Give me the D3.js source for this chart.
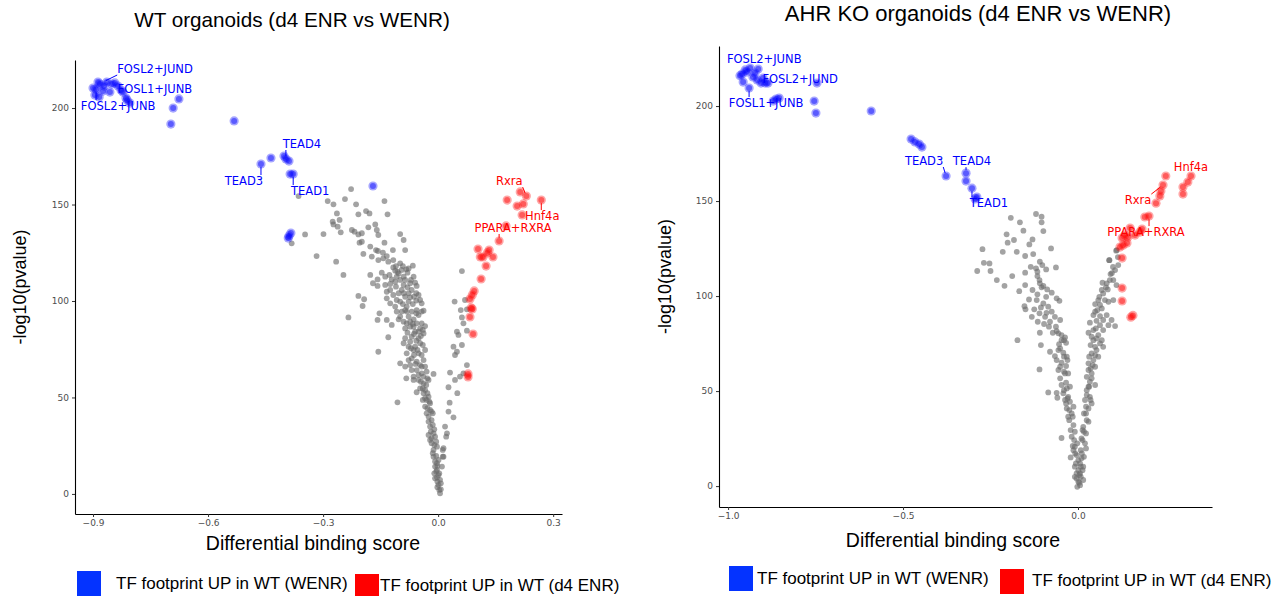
<!DOCTYPE html>
<html lang="en">
<head>
  <meta charset="UTF-8">
  <title>TF footprint volcano plots</title>
  <script src="https://d3js.org/d3.v7.min.js"></script>
  <style>
    body { margin: 0; background: #ffffff; }
    .title { font-family: "Liberation Sans", Arial, sans-serif; fill: #000; }
    .axis-title { font-family: "Liberation Sans", Arial, sans-serif; font-size: 19.5px; fill: #000; }
    .y-title { font-size: 18px; }
    .axis text { font-family: "DejaVu Sans", sans-serif; font-size: 9px; fill: #4d4d4d; }
    .axis path { stroke: #000; stroke-width: 1.1px; }
    .axis line { stroke: #333; }
    .lab { font-family: "DejaVu Sans", sans-serif; font-size: 11.5px; }
    .legend text { font-family: "Liberation Sans", Arial, sans-serif; font-size: 17px; fill: #000; }
  </style>
</head>
<body>
<div id="chart"></div>
<script>
// ---------- WT organoids: [score, -log10 p] ----------
const wtGrey = [
  [-0.227,158.0],[-0.364,154.4],[-0.288,151.8],[-0.243,152.8],[-0.273,150.1],[-0.214,150.1],[-0.140,151.8],
  [-0.264,145.4],[-0.208,144.9],[-0.188,146.6],[-0.179,145.4],[-0.132,144.9],[-0.257,142.0],[-0.275,141.1],
  [-0.273,139.7],[-0.262,138.5],[-0.164,139.7],[-0.182,138.2],[-0.160,136.8],[-0.254,135.6],[-0.225,136.8],
  [-0.218,135.9],[-0.208,134.5],[-0.199,135.1],[-0.347,134.5],[-0.299,134.7],[-0.382,129.9],[-0.099,134.7],
  [-0.090,131.6],[-0.156,134.2],[-0.140,130.2],[-0.205,130.2],[-0.199,130.7],[-0.177,128.2],[-0.162,126.4],
  [-0.157,125.9],[-0.144,125.0],[-0.134,123.3],[-0.118,126.4],[-0.086,126.4],[-0.195,124.4],[-0.173,123.0],
  [-0.156,121.2],[-0.143,122.1],[-0.130,120.4],[-0.117,121.2],[-0.110,118.1],[-0.099,119.5],[-0.083,116.4],
  [-0.066,118.3],[-0.317,123.3],[-0.266,120.4],[-0.247,113.5],[-0.177,113.5],[-0.170,109.2],[-0.158,111.2],
  [-0.147,114.7],[-0.138,112.6],[-0.127,113.5],[-0.121,111.2],[-0.112,115.7],[-0.108,112.6],[-0.099,110.9],
  [-0.090,112.6],[-0.080,114.7],[-0.064,112.6],[-0.060,109.5],[-0.158,107.8],[-0.138,108.3],[-0.125,105.7],
  [-0.110,107.4],[-0.103,104.0],[-0.095,105.7],[-0.086,102.2],[-0.077,104.0],[-0.069,105.7],[-0.057,104.0],
  [-0.047,100.5],[-0.208,102.6],[-0.193,100.9],[-0.197,97.4],[-0.134,101.4],[-0.125,98.8],[-0.112,97.1],
  [-0.099,99.7],[-0.082,97.1],[-0.066,98.4],[-0.056,95.3],[-0.043,94.5],[-0.153,93.6],[-0.134,90.2],
  [-0.121,87.6],[-0.234,91.5],[-0.158,90.2],[-0.099,91.9],[-0.090,89.3],[-0.077,91.9],[-0.064,90.5],
  [-0.051,92.7],[-0.043,88.4],[-0.086,85.8],[-0.073,86.7],[-0.060,84.1],[-0.040,85.0],[-0.069,81.5],
  [-0.051,80.7],[-0.038,83.2],[-0.130,81.2],[-0.156,73.7],[-0.090,78.1],[-0.077,76.3],[-0.060,76.3],
  [-0.047,78.1],[-0.034,74.6],[-0.082,72.9],[-0.069,70.3],[-0.051,72.9],[-0.038,69.4],[-0.099,67.7],
  [-0.086,66.0],[-0.073,66.8],[-0.056,64.2],[-0.043,66.0],[-0.030,63.4],[-0.083,59.9],[-0.064,60.8],
  [-0.051,59.1],[-0.038,57.3],[-0.025,59.1],[-0.012,62.2],[-0.056,52.7],[-0.106,47.5],[-0.040,48.7],
  [-0.025,50.4],[-0.034,45.3],[-0.021,43.5],[-0.030,41.8],[-0.017,38.3],[-0.021,34.9],[-0.010,33.5],
  [-0.025,30.6],[-0.008,29.7],[-0.017,26.3],[-0.012,22.8],[-0.003,24.5],[-0.012,19.3],[0.001,17.6],
  [-0.008,14.2],[-0.003,12.4],[0.001,9.8],[-0.008,8.1],[0.005,7.3],[0.001,4.7],[0.003,2.1],[0.005,0.3],
  [0.010,14.2],[0.012,22.8],[0.014,19.3],
  [0.062,115.5],[0.043,99.7],[0.059,95.3],[0.062,91.5],[0.075,95.7],[0.066,88.4],[0.049,84.1],[0.053,82.4],
  [0.062,77.2],[0.040,76.3],[0.049,73.7],[0.075,84.6],[0.044,72.0],[0.031,62.9],[0.044,59.1],[0.057,60.8],
  [0.066,62.5],[0.075,66.8],[0.027,55.3],[0.050,52.2],[0.030,47.3],[0.027,42.7],[0.040,39.7],[0.018,34.9],
  [0.023,31.4],[0.021,29.7],[0.014,23.7],[0.012,19.3],[0.070,100.5],
  [-0.103,114.3],[-0.095,116.1],[-0.086,110.9],[-0.073,109.2],[-0.117,103.1],[-0.108,94.5],[-0.095,94.5],
  [-0.082,94.5],[-0.073,89.3],[-0.064,86.7],[-0.056,88.4],[-0.051,84.1],[-0.073,78.9],[-0.064,74.6],
  [-0.056,68.6],[-0.043,62.5],[-0.064,59.1],[-0.047,54.7],[-0.034,53.9],[-0.038,52.2],[-0.030,48.7],
  [-0.021,47.0],[-0.025,40.1],[-0.014,41.8],[-0.012,31.4],[-0.021,28.0],[-0.005,27.1],[-0.003,15.9],
  [-0.010,10.7],[-0.002,6.4],
  [-0.117,117.4],[-0.106,115.2],[-0.092,118.1],[-0.077,116.9],[-0.125,108.8],[-0.112,110.0],[-0.090,108.3],
  [-0.080,107.1],[-0.071,110.9],[-0.056,107.8],[-0.134,104.8],[-0.090,104.0],[-0.073,101.9],[-0.063,102.2],
  [-0.051,103.1],[-0.108,100.5],[-0.092,98.4],[-0.077,99.7],[-0.057,100.2],[-0.043,98.8],[-0.086,95.3],
  [-0.069,94.5],[-0.057,93.6],[-0.038,95.0],[-0.103,90.5],[-0.082,88.4],[-0.066,88.1],[-0.047,85.8],
  [-0.034,87.0],[-0.080,83.6],[-0.063,82.9],[-0.045,81.9],[-0.086,80.7],[-0.057,79.4],[-0.040,77.2],
  [-0.071,75.5],[-0.054,74.6],[-0.043,72.0],[-0.063,72.0],[-0.077,69.4],[-0.059,67.4],[-0.047,66.8],
  [-0.034,66.0],[-0.069,64.2],[-0.051,61.7],[-0.038,60.8],[-0.028,59.9],[-0.045,58.2],[-0.031,56.5],
  [-0.040,54.7],[-0.028,52.2],[-0.034,49.6],[-0.023,47.8],[-0.028,44.4],[-0.017,42.7],[-0.025,37.5],
  [-0.014,35.8],[-0.019,32.3],[-0.017,28.8],[-0.010,25.4],[-0.014,21.1],[-0.005,19.7],[-0.008,16.8],
  [-0.002,14.5],[-0.005,11.6],[0.003,10.7],[-0.003,8.6],[0.007,5.5],[-0.002,3.5],[0.007,2.4]
];
const wtBlue = [
  [-0.887,213.5],[-0.892,209.8],[-0.884,205.7],[-0.856,208.3],[-0.864,213.5],[-0.843,213.0],[-0.822,208.3],
  [-0.811,204.1],[-0.804,202.6],[-0.900,210.4],[-0.895,206.7],[-0.882,212.4],[-0.871,211.4],[-0.851,212.4],
  [-0.835,211.4],[-0.827,209.3],[-0.874,208.8],[-0.814,205.2],[-0.676,204.7],[-0.691,200.0],[-0.697,191.7],
  [-0.532,193.3],[-0.462,171.0],[-0.436,174.1],[-0.402,175.1],[-0.397,173.6],[-0.389,172.5],[-0.386,165.8],
  [-0.378,165.8],[-0.389,133.7],[-0.384,135.2],[-0.391,132.6],[-0.170,159.6]
];
const wtRed = [
  [0.214,156.5],[0.230,154.4],[0.180,152.3],[0.269,152.3],[0.206,149.2],[0.222,150.3],[0.219,144.6],
  [0.177,138.9],[0.159,131.1],[0.104,126.9],[0.110,122.8],[0.128,124.9],[0.133,126.4],[0.143,122.8],
  [0.117,122.8],[0.125,118.1],[0.112,111.4],[0.094,105.2],[0.089,103.1],[0.083,101.0],[0.086,96.4],
  [0.089,95.9],[0.083,91.7],[0.091,82.9],[0.078,62.2],[0.078,60.6]
];
const wtLabels = [
  ["FOSL2+JUND", -0.874, 213.5, "blue"], ["FOSL1+JUNB", -0.822, 208.3, "blue"],
  ["FOSL2+JUNB", -0.892, 209.8, "blue"], ["TEAD4", -0.397, 173.6, "blue"],
  ["TEAD3", -0.462, 171.0, "blue"], ["TEAD1", -0.378, 165.8, "blue"],
  ["Rxra", 0.230, 154.4, "red"], ["Hnf4a", 0.269, 152.3, "red"], ["PPARA+RXRA", 0.159, 131.1, "red"]
];

// ---------- AHR KO organoids ----------
const koGrey = [
  [-0.120,143.2],[-0.104,141.8],[-0.192,141.2],[-0.166,138.8],[-0.104,138.8],[-0.099,134.2],[-0.156,134.4],
  [-0.204,132.5],[-0.183,129.5],[-0.130,129.8],[-0.139,127.2],[-0.201,128.1],[-0.215,123.3],[-0.175,123.3],
  [-0.151,121.1],[-0.128,122.1],[-0.077,125.1],[-0.273,124.7],[-0.109,118.1],[-0.102,116.3],[-0.120,114.6],
  [-0.135,115.4],[-0.151,112.3],[-0.116,112.8],[-0.091,114.0],[-0.063,115.1],[-0.269,117.5],[-0.253,117.2],
  [-0.288,113.2],[-0.250,113.2],[-0.232,108.4],[-0.210,105.4],[-0.188,110.5],[-0.151,105.8],[-0.130,103.2],
  [-0.109,106.7],[-0.099,105.3],[-0.088,103.5],[-0.116,100.9],[-0.091,99.6],[-0.075,101.8],[-0.061,98.8],
  [-0.053,97.5],[-0.168,102.6],[-0.140,98.2],[-0.153,94.7],[-0.150,93.0],[-0.125,93.0],[-0.106,94.0],
  [-0.110,90.9],[-0.132,89.1],[-0.090,91.2],[-0.075,91.8],[-0.066,89.1],[-0.051,87.4],[-0.115,86.5],
  [-0.097,85.3],[-0.083,83.9],[-0.072,80.7],[-0.109,80.7],[-0.061,81.6],[-0.047,79.5],[-0.037,78.2],
  [-0.034,75.4],[-0.054,74.7],[-0.106,74.2],[-0.080,70.7],[-0.066,68.4],[-0.051,72.5],[-0.042,70.2],
  [-0.032,68.1],[-0.061,66.3],[-0.047,64.9],[-0.056,61.1],[-0.034,63.2],[-0.028,59.3],[-0.110,61.4],
  [-0.173,76.8],[-0.051,56.7],[-0.034,54.4],[-0.032,51.4],[-0.042,48.8],[-0.028,47.0],[-0.061,49.1],
  [-0.059,46.5],[-0.085,49.3],[-0.023,44.4],[-0.013,41.8],[-0.032,40.9],[-0.018,38.2],[-0.025,34.7],
  [-0.013,32.1],[-0.047,25.3],[-0.009,28.6],[-0.018,26.0],[-0.002,22.5],[-0.013,18.9],[-0.004,16.3],
  [-0.021,15.1],[-0.006,11.9],[0.001,8.4],[-0.009,4.9],[0.001,2.3],[0.006,0.5],[-0.002,-0.4],
  [0.109,123.9],[0.090,118.9],[0.115,116.3],[0.106,113.7],[0.093,111.6],[0.101,108.4],[0.082,106.7],
  [0.070,107.0],[0.110,105.8],[0.085,103.5],[0.072,101.4],[0.061,99.6],[0.077,97.9],[0.049,95.8],
  [0.063,95.3],[0.087,97.0],[0.101,97.9],[0.055,92.6],[0.044,90.0],[0.063,89.5],[0.072,87.4],[0.053,87.0],
  [0.034,86.0],[0.096,87.4],[0.106,84.2],[0.087,84.7],[0.072,82.1],[0.058,79.5],[0.044,82.1],[0.030,80.7],
  [0.063,75.1],[0.072,73.3],[0.053,71.6],[0.039,69.8],[0.058,68.1],[0.044,66.3],[0.030,64.6],[0.049,62.8],
  [0.039,59.3],[0.025,57.5],[0.034,54.9],[0.049,53.2],[0.025,50.5],[0.034,47.0],[0.020,45.3],[0.039,43.5],
  [0.030,40.9],[0.017,38.2],[0.025,34.7],[0.015,31.2],[0.023,27.7],[0.010,25.1],[0.020,22.5],[0.008,18.9],
  [0.017,15.4],[0.006,11.9],[0.013,8.4],[0.008,4.9],[0.004,1.8],[0.015,3.2],
  [-0.040,76.8],[-0.030,66.3],[-0.040,60.2],[-0.023,52.3],[-0.037,45.3],[-0.015,36.5],[-0.009,20.7],
  [0.001,13.7],[-0.004,6.7],[0.049,73.3],[0.044,76.8],[0.036,61.9],[0.030,52.3],[0.023,41.8],[0.013,29.5],
  [0.011,17.2],[0.008,10.2],[0.068,76.8],[0.082,90.0],
  [0.111,124.2],[0.089,118.9],[0.114,120.5],[0.100,115.3],[0.097,112.1],
  [-0.116,110.5],[-0.110,108.4],[-0.104,104.6],[-0.118,97.9],[-0.099,96.1],[-0.085,94.4],[-0.094,89.1],
  [-0.080,86.5],[-0.063,83.9],[-0.056,80.4],[-0.047,76.8],[-0.056,71.6],[-0.040,68.1],[-0.051,62.8],
  [-0.037,59.3],[-0.047,53.2],[-0.040,50.5],[-0.030,46.1],[-0.034,43.5],[-0.025,40.0],[-0.028,36.5],
  [-0.021,29.5],[-0.011,24.2],[-0.015,21.1],[-0.008,17.2],[-0.009,10.2],[-0.004,4.0],[0.004,5.8],
  [0.091,108.4],[0.080,104.6],[0.068,103.2],[0.058,97.9],[0.068,93.5],[0.049,91.8],[0.063,84.7],
  [0.051,83.0],[0.039,78.6],[0.053,77.7],[0.036,74.2],[0.049,68.9],[0.032,68.1],[0.042,63.7],[0.030,61.1],
  [0.039,56.7],[0.032,52.3],[0.025,47.9],[0.036,45.3],[0.023,38.2],[0.030,33.9],[0.017,28.6],[0.013,24.2],
  [0.023,19.8],[0.010,14.6],[0.015,10.2],[0.006,6.7]
];
const koBlue = [
  [-0.960,216.8],[-0.957,212.6],[-0.940,209.5],[-0.914,219.5],[-0.937,220.0],[-0.946,217.9],[-0.929,215.3],
  [-0.917,213.7],[-0.906,212.1],[-0.894,212.1],[-0.886,212.1],[-0.746,212.1],[-0.871,202.6],[-0.854,204.2],
  [-0.863,203.7],[-0.754,202.6],[-0.749,196.3],[-0.591,197.4],[-0.966,216.0],[-0.951,219.0],[-0.923,217.4],
  [-0.900,214.7],[-0.477,182.6],[-0.466,181.1],[-0.454,180.0],[-0.446,178.4],[-0.377,163.2],[-0.320,164.7],
  [-0.320,160.5],[-0.303,156.8],[-0.289,152.1],[-0.294,151.1]
];
const koRed = [
  [0.323,163.2],[0.314,160.0],[0.300,157.4],[0.300,153.7],[0.251,163.2],[0.243,158.4],[0.237,155.3],
  [0.234,152.6],[0.223,148.9],[0.191,141.6],[0.203,142.1],[0.183,135.3],[0.149,135.8],[0.143,131.1],
  [0.134,132.1],[0.126,130.5],[0.163,132.1],[0.177,133.7],[0.129,126.8],[0.140,127.9],[0.120,125.8],
  [0.126,120.0],[0.126,104.2],[0.126,97.4],[0.151,88.9],[0.157,89.8]
];
const koLabels = [
  ["FOSL2+JUNB", -0.951, 219.0, "blue"], ["FOSL2+JUND", -0.894, 212.1, "blue"],
  ["FOSL1+JUNB", -0.940, 209.5, "blue"], ["TEAD3", -0.377, 163.2, "blue"],
  ["TEAD4", -0.320, 164.7, "blue"], ["TEAD1", -0.303, 156.8, "blue"],
  ["Hnf4a", 0.323, 163.2, "red"], ["Rxra", 0.243, 158.4, "red"], ["PPARA+RXRA", 0.203, 142.1, "red"]
];

const legendNames = ["TF footprint UP in WT (WENR)", "TF footprint UP in WT (d4 ENR)"];

// ---------- layout ----------
const colors = { blue: "#0000ff", red: "#ff0000" };

const panels = [
  {
    title: "WT organoids (d4 ENR vs WENR)", titleX: 292, titleY: 27, titleSize: 20.7,
    grey: wtGrey, blue: wtBlue, red: wtRed, labels: wtLabels,
    left: 75, right: 562, top: 60, bottom: 514,
    xDomain: [-0.947, 0.323], yDomain: [-10.4, 224.9],
    xTicks: [-0.9, -0.6, -0.3, 0, 0.3], yTicks: [0, 50, 100, 150, 200],
    xTitleX: 313, xTitleY: 550, yTitleX: 26,
    labelOffsets: [[52, -13], [32, -3], [22, 17], [16, -15], [-17, 17], [17, 17], [-17, -15], [1, 16], [14, -13]],
    legend: { y: 571, sq1: 77, txt1: 116, sq2: 355, txt2: 380 }
  },
  {
    title: "AHR KO organoids (d4 ENR vs WENR)", titleX: 978, titleY: 21, titleSize: 22,
    grey: koGrey, blue: koBlue, red: koRed, labels: koLabels,
    left: 719, right: 1212, top: 46, bottom: 507,
    xDomain: [-1.026, 0.383], yDomain: [-11, 231.6],
    xTicks: [-1.0, -0.5, 0], yTicks: [0, 50, 100, 150, 200],
    xTitleX: 953, xTitleY: 547, yTitleX: 671,
    labelOffsets: [[19, -11], [35, -4], [17, 15], [-22, -15], [6, -12], [17, 15], [0, -9], [-25, 15], [-3, 16]],
    legend: { y: 566, sq1: 729, txt1: 757, sq2: 1000, txt2: 1032 }
  }
];

const svg = d3.select("#chart").append("svg")
  .attr("width", 1279).attr("height", 596);

panels.forEach(p => {
  const x = d3.scaleLinear().domain(p.xDomain).range([p.left, p.right]);
  const y = d3.scaleLinear().domain(p.yDomain).range([p.bottom, p.top]);
  const g = svg.append("g");

  g.append("g")
    .attr("class", "axis")
    .attr("transform", `translate(0, ${p.bottom})`)
    .call(d3.axisBottom(x).tickValues(p.xTicks).tickFormat(d3.format(".1f")).tickSize(3).tickSizeOuter(0).tickPadding(3));

  g.append("g")
    .attr("class", "axis")
    .attr("transform", `translate(${p.left}, 0)`)
    .call(d3.axisLeft(y).tickValues(p.yTicks).tickSize(3).tickSizeOuter(0).tickPadding(3));

  g.selectAll("circle.grey")
    .data(p.grey)
    .enter()
    .append("circle")
    .attr("class", "grey")
    .attr("cx", d => x(d[0]))
    .attr("cy", d => y(d[1]))
    .attr("r", 2.9)
    .attr("fill", "#6a6a6a")
    .attr("fill-opacity", 0.62);

  [["blue", p.blue], ["red", p.red]].forEach(([key, pts]) => {
    const c = colors[key];
    g.selectAll("circle.halo-" + key)
      .data(pts)
      .enter()
      .append("circle")
      .attr("class", "halo-" + key)
      .attr("cx", d => x(d[0]))
      .attr("cy", d => y(d[1]))
      .attr("r", 4.6)
      .attr("fill", c)
      .attr("fill-opacity", 0.35);
    g.selectAll("circle.core-" + key)
      .data(pts)
      .enter()
      .append("circle")
      .attr("class", "core-" + key)
      .attr("cx", d => x(d[0]))
      .attr("cy", d => y(d[1]))
      .attr("r", 3)
      .attr("fill", c)
      .attr("fill-opacity", 0.45);
  });

  // repelled labels with connector segments
  p.labels.forEach((lab, i) => {
    const px = x(lab[1]), py = y(lab[2]);
    const [dx, dy] = p.labelOffsets[i];
    const t = g.append("text")
      .attr("class", "lab")
      .attr("x", px + dx)
      .attr("y", py + dy)
      .attr("dy", "0.35em")
      .attr("text-anchor", "middle")
      .attr("fill", colors[lab[3]])
      .text(lab[0]);
    const bb = t.node().getBBox();
    const nx = Math.max(bb.x, Math.min(px, bb.x + bb.width));
    const ny = Math.max(bb.y + 1, Math.min(py, bb.y + bb.height - 1));
    const len = Math.hypot(nx - px, ny - py);
    if (len > 5) {
      const k = 3 / len;
      g.append("line")
        .attr("x1", px + (nx - px) * k).attr("y1", py + (ny - py) * k)
        .attr("x2", nx).attr("y2", ny)
        .attr("stroke", colors[lab[3]])
        .attr("stroke-width", 1);
    }
  });

  svg.append("text")
    .attr("class", "title")
    .attr("x", p.titleX).attr("y", p.titleY)
    .attr("text-anchor", "middle")
    .style("font-size", p.titleSize + "px")
    .text(p.title);

  svg.append("text")
    .attr("class", "axis-title")
    .attr("x", p.xTitleX).attr("y", p.xTitleY)
    .attr("text-anchor", "middle")
    .text("Differential binding score");

  svg.append("text")
    .attr("class", "axis-title y-title")
    .attr("transform", "rotate(-90)")
    .attr("x", -(p.top + p.bottom) / 2)
    .attr("y", p.yTitleX)
    .attr("text-anchor", "middle")
    .text("-log10(pvalue)");

  const lg = svg.append("g").attr("class", "legend");
  lg.append("rect").attr("x", p.legend.sq1).attr("y", p.legend.y)
    .attr("width", 24).attr("height", 25).attr("fill", "#0433ff");
  lg.append("text").attr("x", p.legend.txt1).attr("y", p.legend.y + 12.5)
    .attr("dy", "0.35em").text(legendNames[0]);
  lg.append("rect").attr("x", p.legend.sq2).attr("y", p.legend.y + 3)
    .attr("width", 24).attr("height", 25).attr("fill", "#ff0000");
  lg.append("text").attr("x", p.legend.txt2).attr("y", p.legend.y + 14)
    .attr("dy", "0.35em").text(legendNames[1]);
});
</script>
</body>
</html>
